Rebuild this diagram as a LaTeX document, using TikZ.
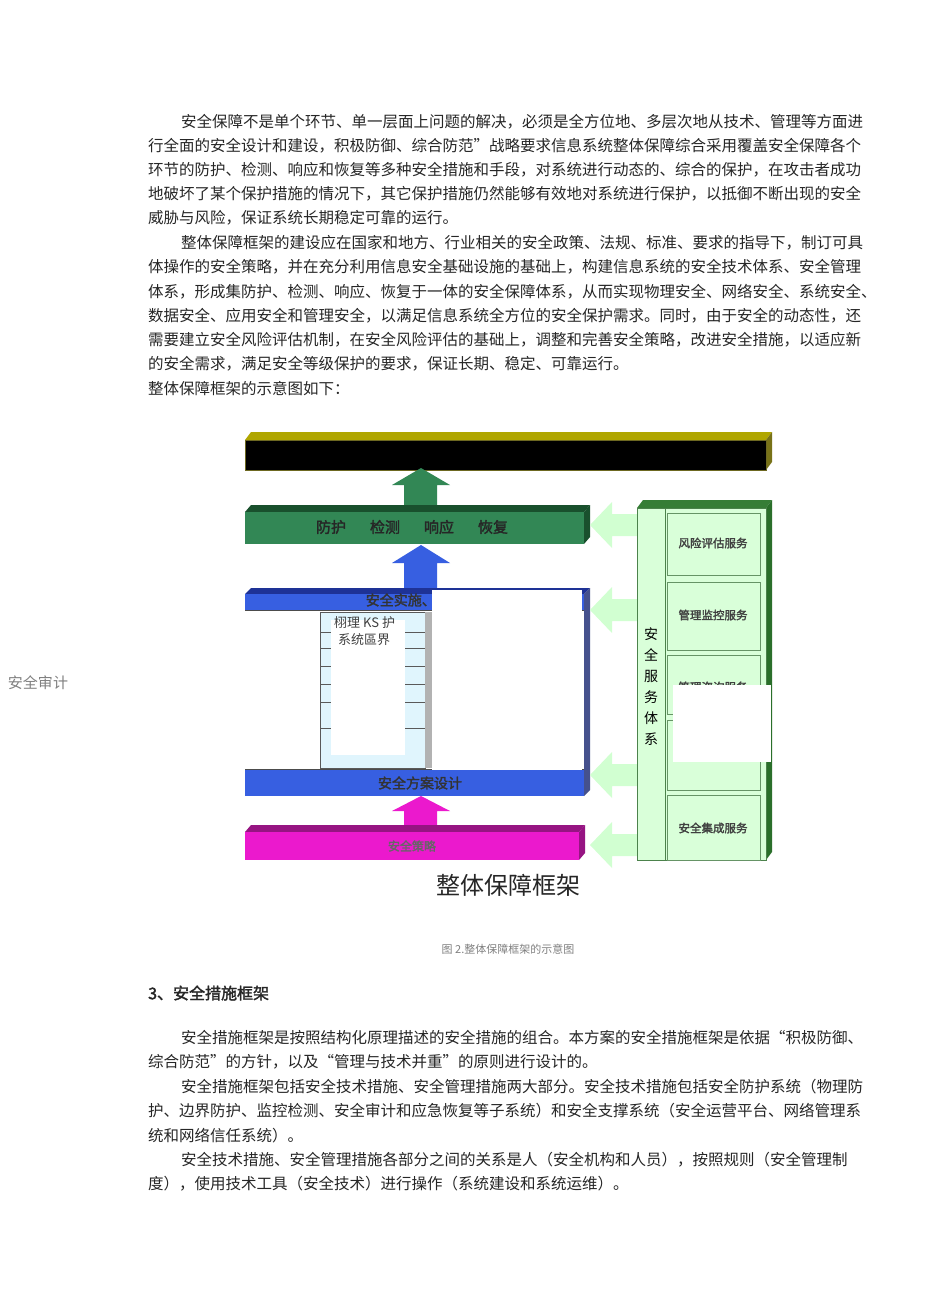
\documentclass[tikz,border=0pt]{standalone}
\usepackage{fontspec}
\setmainfont{Noto Sans CJK SC}
\newfontfamily\cjkb{Noto Sans CJK SC}[BoldFont={Noto Sans CJK SC}, BoldFeatures={FakeBold=2}]
\definecolor{gbar}{RGB}{50,135,85}
\definecolor{gdark}{RGB}{25,80,45}
\definecolor{bbar}{RGB}{55,95,225}
\definecolor{bdark}{RGB}{30,50,150}
\definecolor{mbar}{RGB}{235,25,205}
\definecolor{mdark}{RGB}{150,20,130}
\definecolor{ybar}{RGB}{255,245,40}
\begin{document}
\begin{tikzpicture}[x=1pt,y=-1pt,
  body/.style={anchor=west,inner sep=0pt,font=\fontsize{15.5}{18}\selectfont,text=black!85},
  barlbl/.style={inner sep=0pt,font=\fontsize{15}{17}\selectfont\cjkb\bfseries},
  svc/.style={inner sep=0pt,font=\fontsize{11.5}{13}\selectfont\cjkb\bfseries,text=black!75}]
\useasboundingbox (0,0) rectangle (950,1314);
\fill[white] (0,0) rectangle (950,1314);
% paragraph 1
\node[body] (p1) at (181,122) {安全保障不是单个环节、单一层面上问题的解决，必须是全方位地、多层次地从技术、管理等方面进};
\node[body] (p2) at (148,146) {行全面的安全设计和建设，积极防御、综合防范”战略要求信息系统整体保障综合采用覆盖安全保障各个};
\node[body] (p3) at (148,170) {环节的防护、检测、响应和恢复等多种安全措施和手段，对系统进行动态的、综合的保护，在攻击者成功};
\node[body] (p4) at (148,194) {地破坏了某个保护措施的情况下，其它保护措施仍然能够有效地对系统进行保护，以抵御不断出现的安全};
\node[body] (p5) at (148,218) {威胁与风险，保证系统长期稳定可靠的运行。};
\node[body] (q1) at (181,243) {整体保障框架的建设应在国家和地方、行业相关的安全政策、法规、标准、要求的指导下，制订可具};
\node[body] (q2) at (148,267) {体操作的安全策略，并在充分利用信息安全基础设施的基础上，构建信息系统的安全技术体系、安全管理};
\node[body] (q3) at (148,292) {体系，形成集防护、检测、响应、恢复于一体的安全保障体系，从而实现物理安全、网络安全、系统安全、};
\node[body] (q4) at (148,316) {数据安全、应用安全和管理安全，以满足信息系统全方位的安全保护需求。同时，由于安全的动态性，还};
\node[body] (q5) at (148,340) {需要建立安全风险评估机制，在安全风险评估的基础上，调整和完善安全策略，改进安全措施，以适应新};
\node[body] (q6) at (148,364) {的安全需求，满足安全等级保护的要求，保证长期、稳定、可靠运行。};
\node[body] (q7) at (148,389) {整体保障框架的示意图如下：};
% ---------- diagram ----------
% yellow bar
\fill[olive!70!yellow] (245,440) -- (251,432) -- (772,432) -- (766,440) -- cycle;
\fill[olive!80!black] (766,440) -- (772,432) -- (772,462) -- (766,470) -- cycle;
\fill[ybar] (245,440) rectangle (766,470);
\draw[olive!70!black,line width=0.8] (245,440) rectangle (766,470);
\node[barlbl] (yb) at (503,455) {物理安全\hspace{10pt}网络安全\hspace{10pt}系统安全\hspace{10pt}应用安全\hspace{10pt}数据安全\hspace{10pt}管理安全};
% green up arrow
\fill[gbar] (404,505) -- (404,485) -- (392,485) -- (421,468) -- (450,485) -- (437,485) -- (437,505) -- cycle;
% green bar
\fill[gdark] (245,512) -- (251,505) -- (590,505) -- (584,512) -- cycle;
\fill[gdark] (584,512) -- (590,505) -- (590,537) -- (584,544) -- cycle;
\fill[gbar] (245,512) rectangle (584,544);
\node[barlbl,text=black!85] (gb) at (412,527) {防护\hspace{24pt}检测\hspace{24pt}响应\hspace{24pt}恢复};
% blue up arrow
\fill[bbar] (404,590) -- (404,563) -- (392,563) -- (421,545) -- (450,563) -- (437,563) -- (437,590) -- cycle;
% blue frame
\fill[bdark] (245,594) -- (251,588) -- (590,588) -- (584,594) -- cycle;
\fill[bdark!60!gray] (584,594) -- (590,588) -- (590,790) -- (584,796) -- cycle;
\fill[bbar] (245,594) rectangle (584,610);
\fill[bbar] (245,770) rectangle (584,796);
\fill[white] (245,610) rectangle (584,770);
\fill[cyan!12] (320,612) rectangle (425,768);
\foreach \yy in {632,648,666,684,702,728} \draw[gray!70!black,line width=0.8] (320,\yy) -- (425,\yy);
\draw[gray!70!black,line width=0.8] (320,612) rectangle (425,768);
\fill[gray!60] (425,612) rectangle (432,768);
\draw[black!70,line width=1] (245,610) -- (584,610) (245,769) -- (584,769);
\fill[white] (331,620) rectangle (405,755);
\node[inner sep=0pt,anchor=north west,font=\fontsize{13}{14}\selectfont,text=black!75] (ks) at (334,616) {栩理 KS 护};
\node[inner sep=0pt,anchor=north west,font=\fontsize{13}{14}\selectfont,text=black!75] (xj) at (338,633) {系统區界};
\node[barlbl,text=black!80,anchor=east,font=\fontsize{14}{15}\selectfont\cjkb\bfseries] (ss) at (450,600) {安全实施、测};
\fill[white] (432,590) rectangle (582,770);
\node[barlbl,text=black!80,font=\fontsize{14}{15}\selectfont\cjkb\bfseries] (fa) at (420,783) {安全方案设计};
% magenta arrow
\fill[mbar] (404,825) -- (404,811) -- (392,811) -- (421,796) -- (450,811) -- (437,811) -- (437,825) -- cycle;
% magenta bar
\fill[mdark] (245,832) -- (251,825) -- (585,825) -- (579,832) -- cycle;
\fill[mdark] (579,832) -- (585,825) -- (585,853) -- (579,860) -- cycle;
\fill[mbar] (245,832) rectangle (579,860);
\node[barlbl,text=black!60,font=\fontsize{12}{13}\selectfont\cjkb\bfseries] (cl) at (412,846) {安全策略};
% left arrows
\foreach \yy in {525,610,775,845}
  \fill[green!18] (637,\yy-11) -- (612,\yy-11) -- (612,\yy-23) -- (590,\yy) -- (612,\yy+23) -- (612,\yy+11) -- (637,\yy+11) -- cycle;
% right panel
\fill[gray!60!green!70!black] (637,508) -- (643,500) -- (772,500) -- (766,508) -- cycle;
\fill[gray!55!green!60!black] (766,508) -- (772,500) -- (772,852) -- (766,860) -- cycle;
\fill[green!15] (637,508) rectangle (766,860);
\draw[green!30!black!70,line width=1] (637,508) rectangle (766,860);
\draw[green!30!black!70,line width=1] (665,508) -- (665,860);
\foreach \a/\b in {513/575,582/650,655/714,720/790,795/860}
  \draw[green!30!black!60,line width=0.8,fill=green!15] (667,\a) rectangle (760,\b);
\node[inner sep=0pt,align=center,font=\fontsize{14}{21}\selectfont] (ax) at (651,687) {安\\全\\服\\务\\体\\系};
\node[svc] (s1) at (713,543) {风险评估服务};
\node[svc] (s2) at (713,615) {管理监控服务};
\node[svc] (s3) at (713,687) {管理咨询服务};
\node[svc] (s5) at (713,828) {安全集成服务};
\fill[white] (673,685) rectangle (771,762);
\node[inner sep=0pt,font=\fontsize{15}{16}\selectfont,text=gray] (sj) at (38,683) {安全审计};
% captions
\node[inner sep=0pt,font=\fontsize{24}{26}\selectfont,text=black!85] (cap) at (508,885) {整体保障框架};
\node[inner sep=0pt,font=\fontsize{11}{13}\selectfont,text=gray] (fig) at (508,949) {图 2.整体保障框架的示意图};
% section 3
\node[body,font=\fontsize{16}{18}\selectfont\cjkb\bfseries] (h3) at (148,993) {3、安全措施框架};
\node[body] (r1) at (181,1038) {安全措施框架是按照结构化原理描述的安全措施的组合。本方案的安全措施框架是依据“积极防御、};
\node[body] (r2) at (148,1062) {综合防范”的方针，以及“管理与技术并重”的原则进行设计的。};
\node[body] (r3) at (181,1087) {安全措施框架包括安全技术措施、安全管理措施两大部分。安全技术措施包括安全防护系统（物理防};
\node[body] (r4) at (148,1111) {护、边界防护、监控检测、安全审计和应急恢复等子系统）和安全支撑系统（安全运营平台、网络管理系};
\node[body] (r5) at (148,1136) {统和网络信任系统）。};
\node[body] (r6) at (181,1160) {安全技术措施、安全管理措施各部分之间的关系是人（安全机构和人员），按照规则（安全管理制};
\node[body] (r7) at (148,1184) {度），使用技术工具（安全技术）进行操作（系统建设和系统运维）。};
\end{tikzpicture}
\end{document}
